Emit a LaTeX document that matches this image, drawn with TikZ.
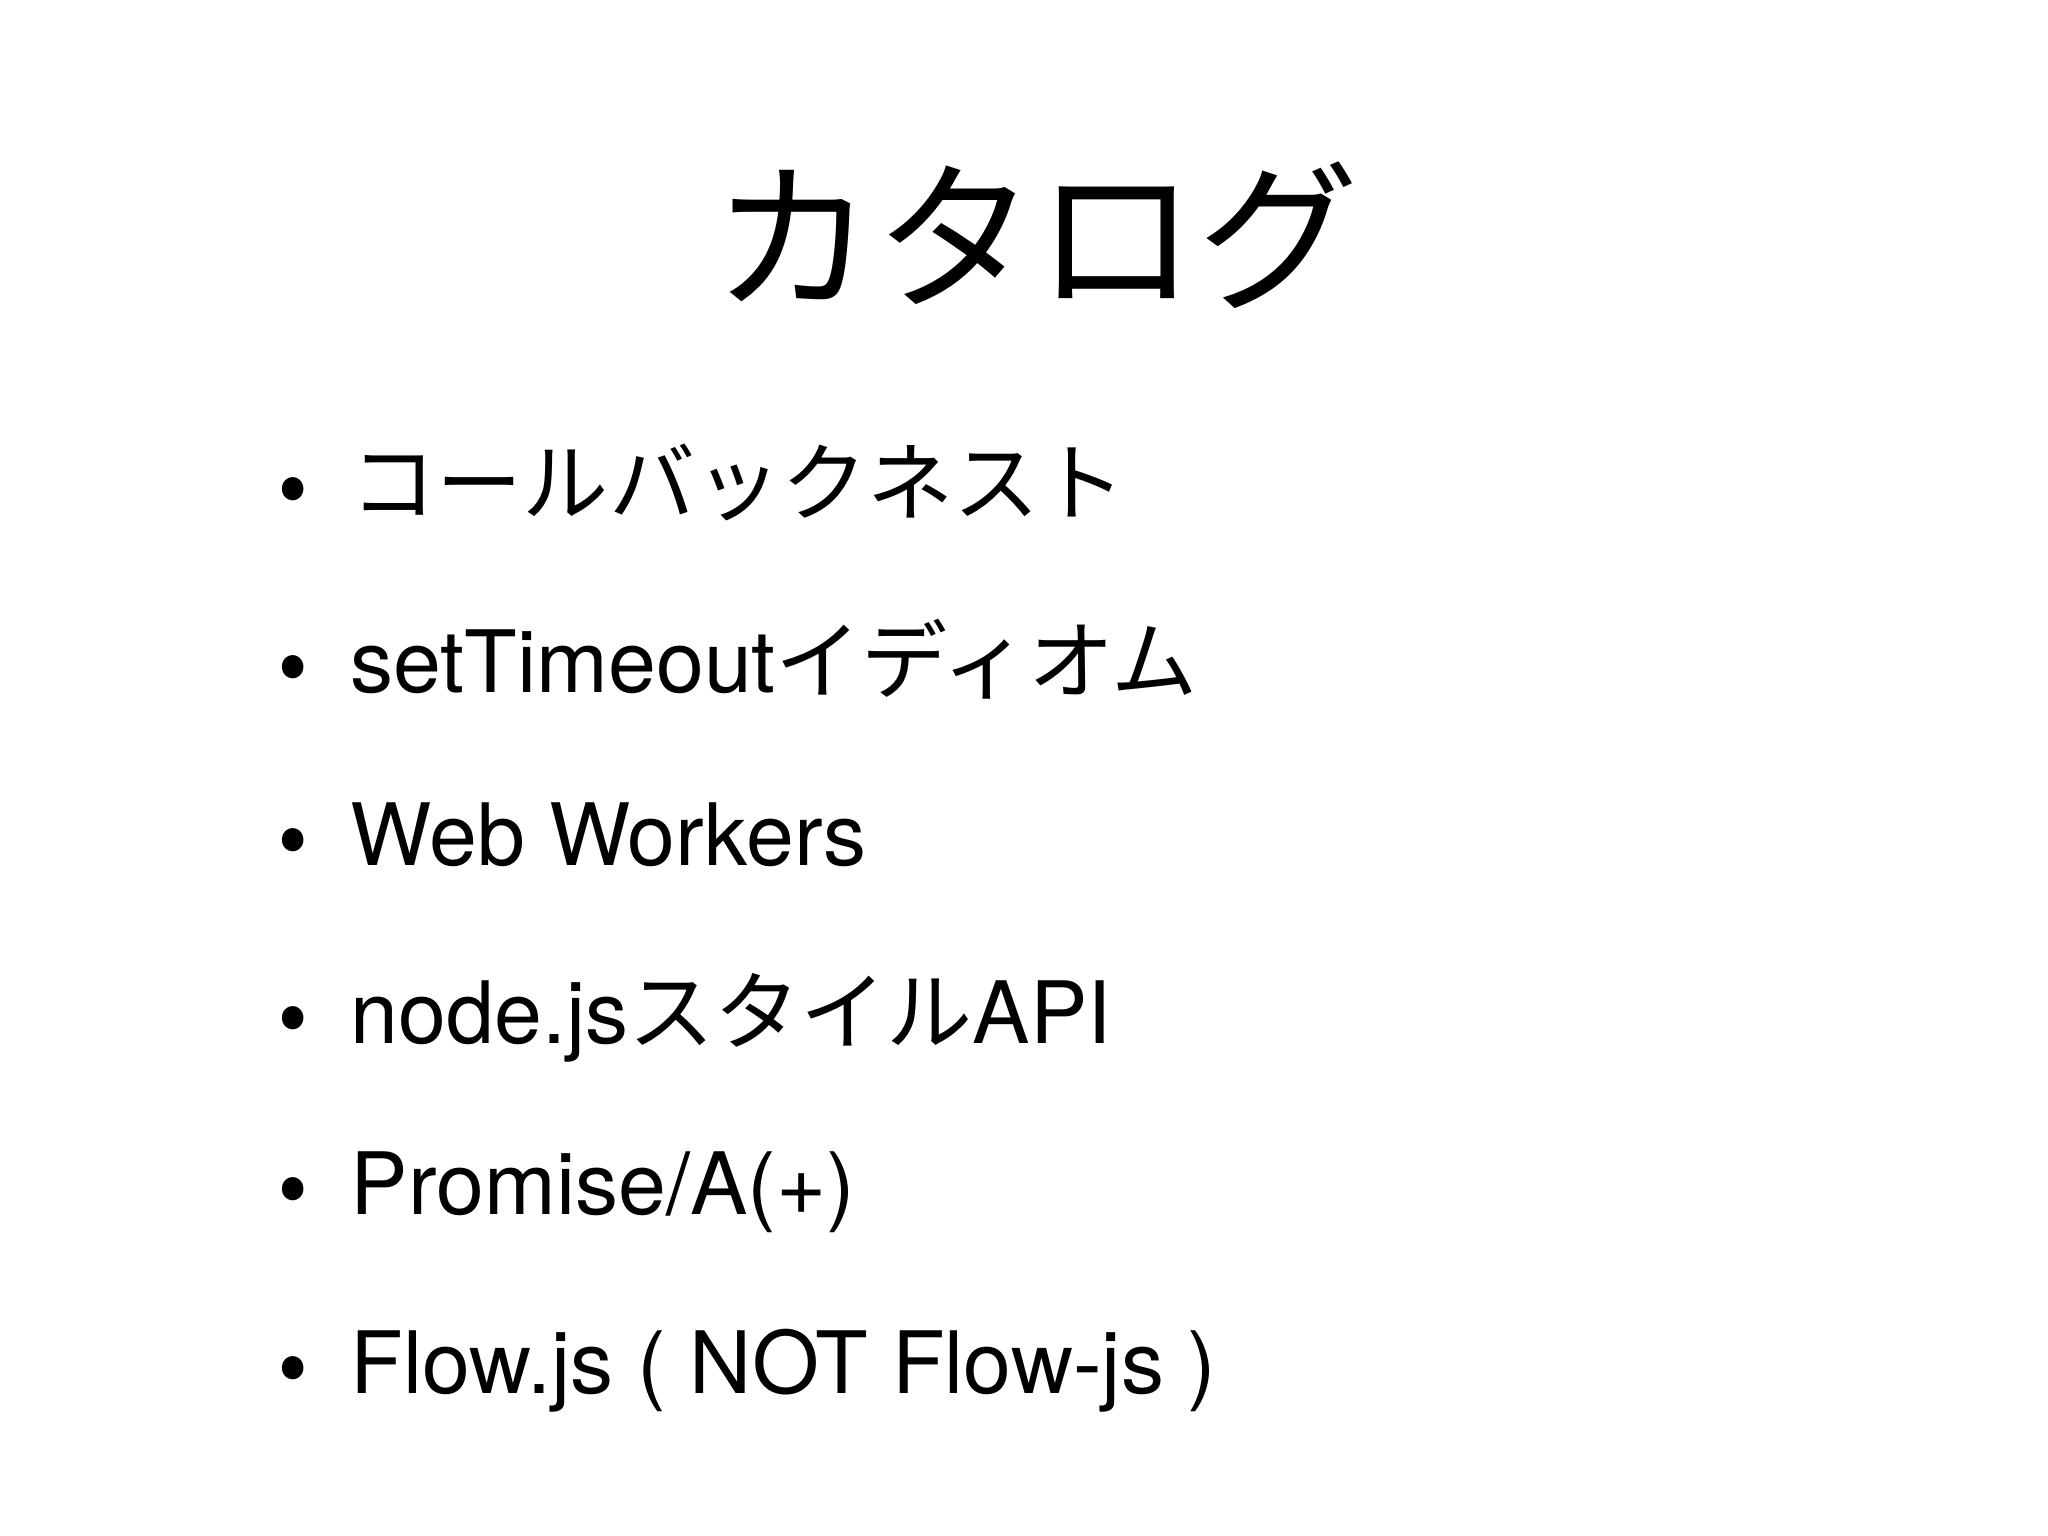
\documentclass[tikz,border=0pt]{standalone}
\usepackage{fontspec}
\setmainfont{TeX Gyre Heros}
\newfontfamily\jp{Noto Sans CJK JP}
\begin{document}
\begin{tikzpicture}[x=1cm,y=-1cm,
    item/.style={anchor=base west, inner sep=0pt, font={\fontsize{24.5}{30}\selectfont}},
    dot/.style={anchor=base, inner sep=0pt, font={\jp\fontsize{24.5}{30}\selectfont}}]
  \useasboundingbox[fill=white] (0,0) rectangle (20.48,15.36);
  % title
  \node[anchor=base, inner sep=0pt, font={\jp\fontsize{46}{52}\selectfont}] (title) at (10.36,2.98) {カタログ};
  % bullet list
  \foreach \t/\y [count=\i] in {{\jp コールバックネスト}/5.15, {setTimeout{\jp イディオム}}/6.93, Web Workers/8.65,
      {node.js{\jp スタイル}API}/10.43, {Promise/A(+)}/12.14, Flow.js ( NOT Flow-js )/13.93} {
    \node[dot] (dot\i) at (2.93,\y) {•};
    \node[item] (item\i) at (3.50,\y) {\t};
  }
\end{tikzpicture}
\end{document}
